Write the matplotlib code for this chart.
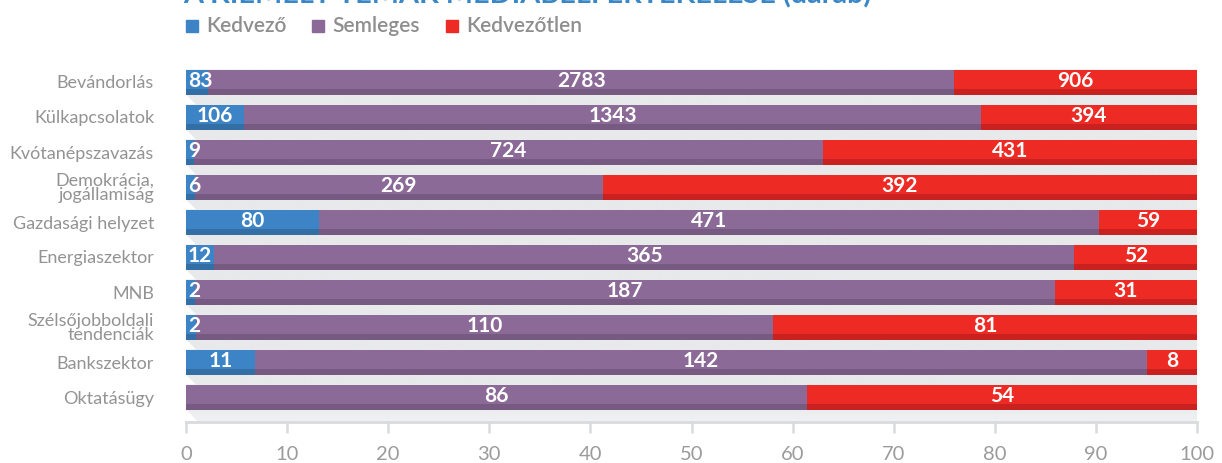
import numpy as np
import matplotlib
matplotlib.use("Agg")
import matplotlib.pyplot as plt
from matplotlib.patches import Polygon, Rectangle

plt.rcParams['font.family'] = ['Lato', 'DejaVu Sans']

categories = ["Bevándorlás", "Külkapcsolatok", "Kvótanépszavazás", "Demokrácia,\njogállamiság",
              "Gazdasági helyzet", "Energiaszektor", "MNB", "Szélsőjobboldali\ntendenciák",
              "Bankszektor", "Oktatásügy"]
kedvezo = [83, 106, 9, 6, 80, 12, 2, 2, 11, 0]
semleges = [2783, 1343, 724, 269, 471, 365, 187, 110, 142, 86]
kedvezotlen = [906, 394, 431, 392, 59, 52, 31, 81, 8, 54]
series_names = ["Kedvező", "Semleges", "Kedvezőtlen"]
title = "A KIEMELT TÉMÁK MÉDIABELI ÉRTÉKELÉSE (darab)"
xticks = [0, 10, 20, 30, 40, 50, 60, 70, 80, 90, 100]

colors = ["#3d84c6", "#8c6a98", "#ee2a24"]
dark = ["#336ea5", "#765a82", "#c8211f"]

W, H = 1222, 463
fig = plt.figure(figsize=(W / 100, H / 100), dpi=100)
# axes: x 0..100 -> px 186..1197, bar centres at px 82 + 35*i, axis line at px 422
ax = fig.add_axes([186 / W, 1 - 422 / H, 1011 / W, 362 / H])
ylim = ((422 - 82) / 35, (60 - 82) / 35)
px_x = 100 / 1011
px_y = 1 / 35

data = np.array([kedvezo, semleges, kedvezotlen], dtype=float)
totals = data.sum(axis=0)
pct = data / totals * 100
n = len(categories)
bh = 25 / 35
strip = 6 / 35

# long shadow behind bars
grad = np.ones((200, 2, 3))
fig_bottom = (H - 82) / 35
ys = np.linspace(-0.5, fig_bottom, 200)
fade_start = (400 - 82) / 35
t = np.clip((ys - fade_start) / (fig_bottom - fade_start), 0, 1)
base = np.array([232, 233, 235]) / 255
for k in range(3):
    grad[:, :, k] = (base[k] + (1 - base[k]) * t)[:, None]
for i in range(n):
    top, bot = i - bh / 2, i + bh / 2
    L = 30 if i < n - 1 else 80
    Lx, Ly = L * px_x, L * px_y
    poly = Polygon([(0, top), (100, top), (100 + Lx, top + Ly), (100 + Lx, bot + Ly),
                    (Lx, bot + Ly), (0, bot)], closed=True, transform=ax.transData)
    im = ax.imshow(grad, extent=[0, 100 + Lx, fig_bottom, -0.5], aspect='auto',
                   zorder=0, clip_on=True, interpolation='bilinear')
    im.set_clip_path(poly)

# bars
lefts = np.zeros(n)
for s in range(3):
    ax.barh(range(n), pct[s], left=lefts, height=bh, color=colors[s], zorder=2, linewidth=0)
    for i in range(n):
        if pct[s][i] > 0:
            ax.add_patch(Rectangle((lefts[i], i + bh / 2 - strip), pct[s][i], strip,
                                   color=dark[s], zorder=3, linewidth=0))
    lefts = lefts + pct[s]

ax.set_xlim(0, 100)
ax.set_ylim(*ylim)

# value labels
fig.canvas.draw()
r = fig.canvas.get_renderer()
lefts = np.zeros(n)
for s in range(3):
    for i in range(n):
        v = data[s][i]
        if v > 0:
            cx = lefts[i] + pct[s][i] / 2
            txt = ax.text(cx, i - 0.03, f"{int(v)}", ha='center', va='center', color='white',
                          fontsize=15, fontweight='bold', zorder=4)
            bb = txt.get_window_extent(r)
            left_px = ax.transData.transform((lefts[i], 0))[0]
            if bb.x0 < left_px + 2:
                txt.set_ha('left')
                txt.set_x(lefts[i] + 2 * px_x)
    lefts = lefts + pct[s]

# axes styling
for sp in ['top', 'right', 'left']:
    ax.spines[sp].set_visible(False)
ax.spines['bottom'].set_color('#d9dadd')
ax.spines['bottom'].set_linewidth(2)
ax.spines['bottom'].set_zorder(1)
ax.set_xticks(xticks)
ax.tick_params(axis='x', direction='out', length=8, width=1.8, color='#d9dadd',
               labelsize=14.5, labelcolor='#9b9b9b', pad=9)
ax.set_yticks(range(n))
ax.set_yticklabels(categories)
ax.tick_params(axis='y', length=0, pad=23, labelsize=13, labelcolor='#939393')
for lab in ax.get_yticklabels():
    lab.set_linespacing(0.85)
ax.set_facecolor('none')

# legend
leg_x = [186, 312, 446]
for s in range(3):
    fig.patches.append(Rectangle((leg_x[s] / W, 1 - 32 / H), 12 / W, 12 / H, color=colors[s],
                                 transform=fig.transFigure, figure=fig))
    fig.text((leg_x[s] + 20) / W, 1 - 26 / H, series_names[s], ha='left', va='center',
             fontsize=15, color='#8e8e8e', fontweight='semibold')

# title (cut off at the top, as in the source image)
fig.text(183 / W, 1 - 2 / H, title, ha='left', va='baseline', fontsize=20.7,
         fontweight='bold', color='#3a87c8')

fig.savefig("out.png", dpi=100)
